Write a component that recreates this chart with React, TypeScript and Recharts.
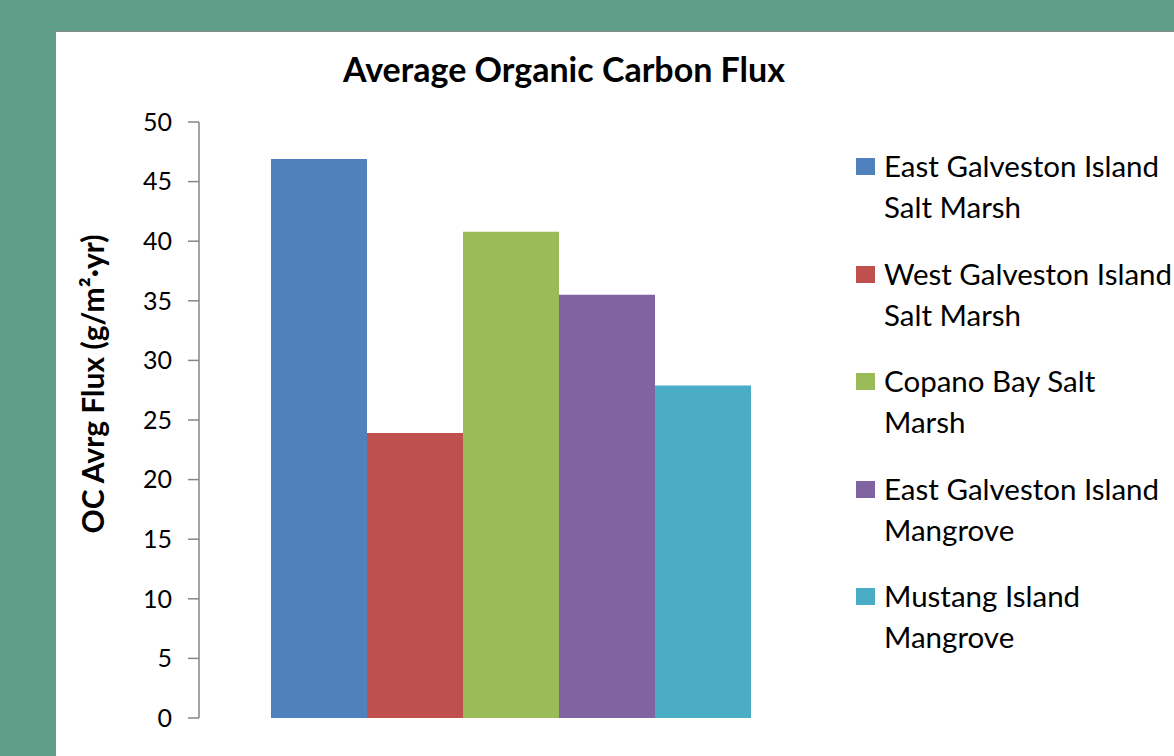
import { BarChart, Bar, XAxis, YAxis } from 'recharts';

const categories = ['Average Organic Carbon Flux'];
const seriesKeys = ['egSalt', 'wgSalt', 'cbSalt', 'egMangrove', 'miMangrove'];
const seriesNames = [
  'East Galveston Island\nSalt Marsh',
  'West Galveston Island\nSalt Marsh',
  'Copano Bay Salt\nMarsh',
  'East Galveston Island\nMangrove',
  'Mustang Island\nMangrove',
];
const seriesValues = [46.9, 23.9, 40.8, 35.5, 27.9];
const seriesColors = ['#4F81BD', '#C0504D', '#9BBB59', '#8064A2', '#4BACC6'];
const yTicks = [0, 5, 10, 15, 20, 25, 30, 35, 40, 45, 50];

const data = categories.map((c) => {
  const row: Record<string, string | number> = { name: c };
  seriesKeys.forEach((k, i) => (row[k] = seriesValues[i]));
  return row;
});

const FONT = 'Lato, "Open Sans", sans-serif';

function YLabel(props: any) {
  const vb = props.viewBox || { x: 0, y: 0, height: 0 };
  const cx = vb.x + 37;
  const cy = vb.y + vb.height / 2 - 36;
  return (
    <text
      x={cx}
      y={cy}
      transform={`rotate(-90, ${cx}, ${cy})`}
      textAnchor="middle"
      dominantBaseline="central"
      fontFamily={FONT}
      fontWeight="bold"
      fontSize={30}
      fill="#000"
    >
      OC Avrg Flux (g/m²·yr)
    </text>
  );
}

export default function App() {
  return (
    <div
      style={{
        position: 'absolute',
        left: 0,
        top: 0,
        width: 1174,
        height: 756,
        overflow: 'hidden',
        background: '#5F9E88',
        fontFamily: FONT,
      }}
    >
      <div
        style={{
          position: 'absolute',
          left: 55,
          top: 31,
          width: 1160,
          height: 760,
          background: '#fff',
          border: '1px solid #8a8a8a',
          boxSizing: 'border-box',
        }}
      />
      <div style={{ position: 'absolute', left: 55, top: 31 }}>
        <BarChart
          width={1119}
          height={725}
          data={data}
          margin={{ top: 91, right: 352, bottom: 38, left: 0 }}
          barCategoryGap={72}
          barGap={0}
        >
          <XAxis dataKey="name" hide />
          <YAxis
            width={144}
            domain={[0, 50]}
            ticks={yTicks}
            interval={0}
            axisLine={{ stroke: '#868686', strokeWidth: 1.5 }}
            tickLine={{ stroke: '#868686', strokeWidth: 1.5 }}
            tickSize={11}
            tickMargin={16}
            tick={{ fill: '#000', fontSize: 25, fontFamily: FONT }}
            label={<YLabel />}
          />
          {seriesKeys.map((k, i) => (
            <Bar
              key={k}
              dataKey={k}
              name={seriesNames[i]}
              fill={seriesColors[i]}
              isAnimationActive={false}
            />
          ))}
        </BarChart>
      </div>
      <div
        style={{
          position: 'absolute',
          left: 0,
          width: 1128,
          top: 52,
          textAlign: 'center',
          fontSize: 34,
          lineHeight: 1,
          fontWeight: 'bold',
          color: '#000',
          whiteSpace: 'nowrap',
        }}
      >
        Average Organic Carbon Flux
      </div>
      <div style={{ position: 'absolute', left: 856, top: 145 }}>
        {seriesNames.map((n, i) => (
          <div key={n} style={{ display: 'flex', height: 107.5 }}>
            <div
              style={{
                width: 19,
                height: 17,
                marginTop: 13,
                background: seriesColors[i],
                flex: 'none',
              }}
            />
            <div
              style={{
                marginLeft: 9,
                fontSize: 29.5,
                lineHeight: '41px',
                whiteSpace: 'pre',
                color: '#000',
              }}
            >
              {n}
            </div>
          </div>
        ))}
      </div>
    </div>
  );
}
